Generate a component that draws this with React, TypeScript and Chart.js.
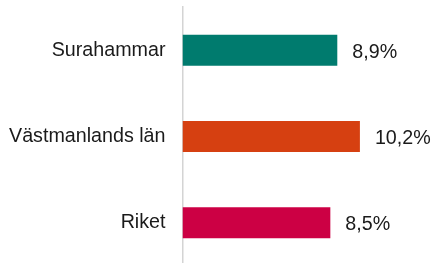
import React, { useEffect, useRef } from "react";
import { Chart, registerables } from "chart.js";

Chart.register(...registerables);

const categories: string[] = ["Surahammar", "Västmanlands län", "Riket"];
const values: number[] = [8.9, 10.2, 8.5];
const barColors: string[] = ["#007B6E", "#D64011", "#CC0044"];

const FONT = '"Liberation Sans", Arial, sans-serif';
const FONT_SIZE = 19.7;
const TEXT_COLOR = "#1a1a1a";

const fmt = (v: number) => v.toFixed(1).replace(".", ",") + "%";

const valueLabels = {
  id: "valueLabels",
  afterDatasetsDraw(chart: any) {
    const ctx = chart.ctx;
    const meta = chart.getDatasetMeta(0);
    const data = chart.data.datasets[0].data as number[];
    ctx.save();
    ctx.font = `${FONT_SIZE}px ${FONT}`;
    ctx.fillStyle = TEXT_COLOR;
    ctx.textAlign = "left";
    ctx.textBaseline = "middle";
    meta.data.forEach((bar: any, i: number) => {
      ctx.fillText(fmt(data[i]), bar.x + 15, bar.y + 2);
    });
    ctx.restore();
  },
};

export default function App() {
  const ref = useRef<HTMLCanvasElement | null>(null);

  useEffect(() => {
    document.documentElement.style.overflow = "hidden";
    document.body.style.margin = "0";
    document.body.style.overflow = "hidden";
    const canvas = ref.current;
    if (!canvas) return;
    const chart = new Chart(canvas, {
      type: "bar",
      data: {
        labels: categories,
        datasets: [
          {
            data: values,
            backgroundColor: barColors,
            borderWidth: 0,
            categoryPercentage: 1,
            barPercentage: 0.36,
          },
        ],
      },
      options: {
        indexAxis: "y",
        animation: false,
        responsive: false,
        maintainAspectRatio: false,
        devicePixelRatio: 1,
        layout: { padding: { top: 7, right: 7, bottom: 0, left: 0 } },
        plugins: {
          legend: { display: false },
          tooltip: { enabled: false },
        },
        scales: {
          x: {
            display: false,
            min: 0,
            max: 14,
          },
          y: {
            z: 1,
            afterFit: (s: any) => {
              s.width = 182.5;
              s.paddingTop = 0;
              s.paddingBottom = 0;
            },
            grid: { display: false, drawTicks: false },
            border: { display: true, color: "#d4d4d4", width: 1.5 },
            ticks: {
              padding: 17,
              color: TEXT_COLOR,
              font: { family: FONT, size: FONT_SIZE },
            },
          },
        },
      },
      plugins: [valueLabels],
    });
    return () => chart.destroy();
  }, []);

  return (
    <div style={{ width: 433, height: 266 }}>
      <canvas ref={ref} width={433} height={266} style={{ display: "block" }} />
    </div>
  );
}
